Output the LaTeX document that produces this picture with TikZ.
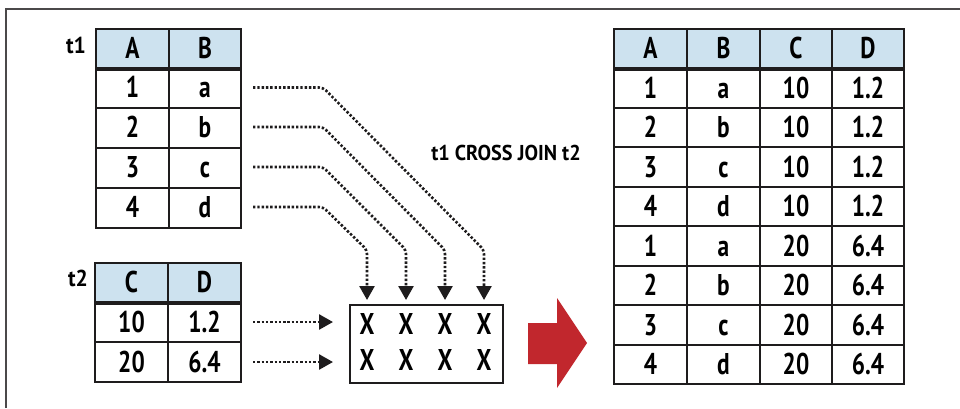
\documentclass[tikz,border=0pt]{standalone}
\usepackage{fontspec}
\setmainfont{PT Sans}
\newfontfamily\tabfont{PT Sans}[FakeStretch=0.78,UprightFont=*-Bold,BoldFont=*-Bold]
\newfontfamily\labfont{PT Sans}[FakeStretch=0.94,UprightFont=*-Bold,BoldFont=*-Bold]
\usetikzlibrary{arrows.meta}
\definecolor{hdr}{RGB}{205,226,239}
\definecolor{ink}{RGB}{30,28,29}
\definecolor{redarrow}{RGB}{193,39,45}
\tikzset{
  cell/.style={draw=ink,line width=2pt,inner sep=0pt,minimum width=73pt,minimum height=40pt,
    font=\tabfont\fontsize{30}{30}\selectfont,text height=20.5pt,text depth=0pt},
  hcell/.style={cell,fill=hdr},
  rcell/.style={cell,minimum width=72.5pt,minimum height=39.5pt},
  rhcell/.style={rcell,fill=hdr,minimum height=39pt},
  tlabel/.style={font=\labfont\fontsize{23}{23}\selectfont,inner sep=0pt},
  xmark/.style={font=\tabfont\fontsize{30}{30}\selectfont,inner sep=0pt,text height=20.5pt,text depth=0pt},
  dotarrow/.style={draw=ink,line width=2.6pt,dash pattern=on 2.4pt off 1.9pt,rounded corners=4pt,
    -{Triangle[width=15pt,length=14pt]}},
  sepline/.style={draw=ink,line width=3.5pt},
}
\begin{document}
\begin{tikzpicture}[x=1pt,y=-1pt]
\useasboundingbox (0,0) rectangle (960,408);
\draw[line width=1.2pt,draw=ink!80] (6,408) -- (6,9) -- (960,9);

% table t1
\node[tlabel] (lt1) at (76,45) {t1};
\node[hcell] (t1hA) at (132.5,48.5) {A};
\node[hcell,minimum width=72pt] (t1hB) at (205,48.5) {B};
\foreach \n/\a/\b [count=\i from 0] in {1/1/a,2/2/b,3/3/c,4/4/d}{
  \node[cell] (t1a\n) at (132.5,{87.5+\i*40}) {\a};
  \node[cell,minimum width=72pt] (t1b\n) at (205,{87.5+\i*40}) {\b};
}
\draw[sepline] (t1hA.south west) -- (t1hB.south east);

% table t2
\node[tlabel] (lt2) at (78,278) {t2};
\node[hcell,minimum height=39pt] (t2hC) at (131.5,282.5) {C};
\node[hcell,minimum height=39pt] (t2hD) at (204.5,282.5) {D};
\node[cell] (t2c1) at (131.5,322) {10};
\node[cell] (t2d1) at (204.5,322) {1.2};
\node[cell] (t2c2) at (131.5,362) {20};
\node[cell] (t2d2) at (204.5,362) {6.4};
\draw[sepline] (t2hC.south west) -- (t2hD.south east);

% X box
\node[draw=ink,line width=2.6pt,minimum width=153pt,minimum height=78pt,inner sep=0pt] (xbox) at (426.5,344) {};
\foreach \c/\x in {1/367,2/406,3/445,4/484}{
  \node[xmark] (xa\c) at (\x,324) {X};
  \node[xmark] (xb\c) at (\x,360) {X};
  \coordinate (tip\c) at (\x,300);
}

% dotted arrows from t1 rows
\foreach \r/\c/\y/\x in {1/4/87.5/484,2/3/127/445,3/2/167/406,4/1/207/367}{
  \coordinate (s\r) at (253,\y);
  \coordinate (b\r) at (323,\y);
  \coordinate (v\r) at (\x,250);
  \draw[dotarrow] (s\r) -- (b\r) -- (v\r) -- (tip\c);
}

% dotted arrows from t2 rows
\coordinate (h1s) at (253,322);
\coordinate (h1e) at (333,322);
\coordinate (h2s) at (253,362);
\coordinate (h2e) at (333,362);
\draw[dotarrow] (h1s) -- (h1e);
\draw[dotarrow] (h2s) -- (h2e);

% title
\node[font=\labfont\fontsize{21.5}{21.5}\selectfont,inner sep=0pt] (title) at (506,153) {t1 CROSS JOIN t2};

% red arrow
\fill[redarrow] (528,323) -- (557,323) -- (557,298) -- (587,343) -- (557,388) -- (557,364) -- (528,364) -- cycle;

% result table
\foreach \h/\x in {A/650.5,B/723.5,C/796,D/868}{
  \node[rhcell] (rh\h) at (\x,48.5) {\h};
}
\foreach \a/\b/\c/\d [count=\i from 0] in {1/a/10/1.2,2/b/10/1.2,3/c/10/1.2,4/d/10/1.2,1/a/20/6.4,2/b/20/6.4,3/c/20/6.4,4/d/20/6.4}{
  \node[rcell] (rA\i) at (650.5,{87.75+\i*39.5}) {\a};
  \node[rcell] (rB\i) at (723.5,{87.75+\i*39.5}) {\b};
  \node[rcell] (rC\i) at (796,{87.75+\i*39.5}) {\c};
  \node[rcell,minimum width=72pt] (rD\i) at (868,{87.75+\i*39.5}) {\d};
}
\draw[sepline] (rhA.south west) -- (rhD.south east);
\end{tikzpicture}
\end{document}
